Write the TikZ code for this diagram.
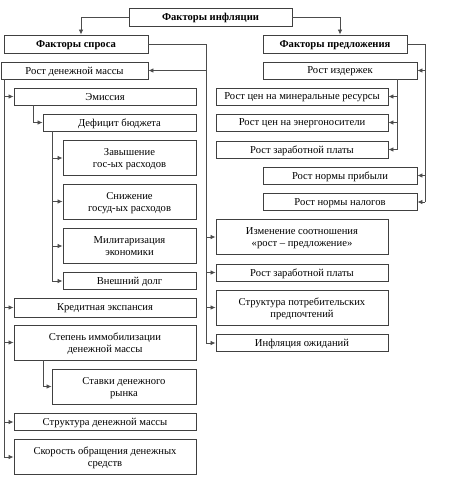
\documentclass[tikz,border=0pt]{standalone}
\usepackage{fontspec}
\setmainfont{Liberation Serif}
\usepackage{tikz}
\usetikzlibrary{calc,arrows.meta}

\tikzset{
	blk/.style={draw=black!75, line width=0.9pt, inner sep=1pt, align=center, text depth=0pt, font=\fontsize{10.6}{12}\selectfont},
	hdr/.style={blk, font=\fontsize{10.6}{12}\selectfont\bfseries, minimum height=18pt},
	one/.style={minimum height=17pt},
	two/.style={minimum height=35pt},
	lw/.style={blk, minimum width=182pt},
	sw/.style={blk, minimum width=133pt},
	rw/.style={blk, minimum width=172pt},
	pw/.style={blk, minimum width=154pt},
	lnk/.style={draw=black!70, line width=0.8pt},
	arr/.style={lnk, -{Latex[length=5pt,width=4.5pt]}},
}

\begin{document}
\begin{tikzpicture}[x=1pt,y=-1pt]
		\useasboundingbox (0,0) rectangle (474,485);
		
		\node[hdr, minimum width=163pt] (infl) at (210.5,17) {Факторы инфляции};
		\node[hdr, minimum width=144pt] (spros) at (76,44) {Факторы спроса};
		\node[hdr, minimum width=144pt] (pred) at (335,44) {Факторы предложения};
		
		\node[blk, one, minimum width=147pt] (dm) at (74.5,70.5) {Рост денежной массы};
		\node[pw, one] (izd) at (340,70.5) {Рост издержек};
		
		\node[lw, one] (emis) at (105,96.5) {Эмиссия};
		\node[blk, one, minimum width=153pt] (def) at (119.5,122.5) {Дефицит бюджета};
		\node[sw, two] (zav) at (129.5,158) {Завышение\\гос-ых расходов};
		\node[sw, two] (snij) at (129.5,201.5) {Снижение\\госуд-ых расходов};
		\node[sw, two] (mil) at (129.5,246) {Милитаризация\\экономики};
		\node[sw, one] (dolg) at (129.5,281) {Внешний долг};
		\node[lw, one, minimum height=19pt] (kred) at (105,307.5) {Кредитная экспансия};
		\node[lw, two] (imm) at (105,342.5) {Степень иммобилизации\\денежной массы};
		\node[blk, two, minimum width=144pt] (stav) at (124,386.5) {Ставки денежного\\рынка};
		\node[lw, one] (strd) at (105,422) {Структура денежной массы};
		\node[lw, two] (skor) at (105,457) {Скорость обращения денежных\\средств};
		
		\node[rw, one] (minr) at (302,96.5) {Рост цен на минеральные ресурсы};
		\node[rw, one] (energ) at (302,122.5) {Рост цен на энергоносители};
		\node[rw, one] (zp1) at (302,149.5) {Рост заработной платы};
		\node[pw, one] (prib) at (340,175.5) {Рост нормы прибыли};
		\node[pw, one] (nal) at (340,202) {Рост нормы налогов};
		\node[rw, two] (izm) at (302,237) {Изменение соотношения\\«рост – предложение»};
		\node[rw, one] (zp2) at (302,272.5) {Рост заработной платы};
		\node[rw, two] (strp) at (302,307.5) {Структура потребительских\\предпочтений};
		\node[rw, one] (ozh) at (302,343) {Инфляция ожиданий};
		
		\coordinate (sp) at (206,0);
		\coordinate (pp) at (425,0);
		\coordinate (ip) at (397,0);
		\coordinate (dp) at (4,0);
		\coordinate (ep) at (33,0);
		\coordinate (fp) at (52,0);
		\coordinate (mp) at (43,0);
		
		\draw[arr] (infl.west) -| ([xshift=5pt]spros.north);
		\draw[arr] (infl.east) -| ([xshift=5pt]pred.north);
		
		\draw[lnk] (spros.east) -| (sp |- ozh.west);
		\draw[arr] (sp |- dm.east) -- (dm.east);
		\foreach \n in {izm,zp2,strp,ozh}
			\draw[arr] (sp |- \n.west) -- (\n.west);
		
		\draw[lnk] (pred.east) -| (pp |- nal.east);
		\foreach \n in {izd,prib,nal}
			\draw[arr] (pp |- \n.east) -- (\n.east);
		
		\draw[lnk] (ip |- izd.south) -- (ip |- zp1.east);
		\foreach \n in {minr,energ,zp1}
			\draw[arr] (ip |- \n.east) -- (\n.east);
		
		\draw[lnk] (dp |- dm.south) -- (dp |- skor.west);
		\foreach \n in {emis,kred,imm,strd,skor}
			\draw[arr] (dp |- \n.west) -- (\n.west);
		
		\draw[arr] (ep |- emis.south) |- (def.west);
		
		\draw[lnk] (fp |- def.south) -- (fp |- dolg.west);
		\foreach \n in {zav,snij,mil,dolg}
			\draw[arr] (fp |- \n.west) -- (\n.west);
		
		\draw[arr] (mp |- imm.south) |- (stav.west);
	\end{tikzpicture}
\end{document}
